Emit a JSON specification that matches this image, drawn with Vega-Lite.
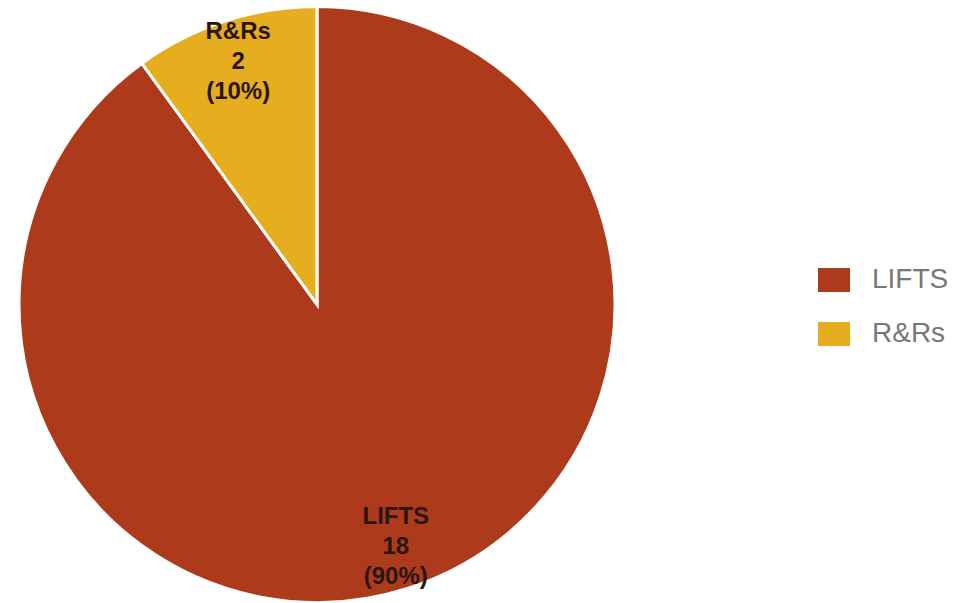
{
  "$schema": "https://vega.github.io/schema/vega-lite/v6.json",
  "width": 634,
  "height": 603,
  "padding": {"left": 0, "top": 3, "right": 325, "bottom": 0},
  "autosize": {"type": "none"},
  "background": "white",
  "data": {
    "values": [
      {"category": "LIFTS", "count": 18, "label": "LIFTS\n18\n(90%)", "order": 1},
      {"category": "R&Rs", "count": 2, "label": "R&Rs\n2\n(10%)", "order": 2}
    ]
  },
  "encoding": {
    "theta": {"field": "count", "type": "quantitative", "stack": true},
    "order": {"field": "order", "type": "quantitative"}
  },
  "layer": [
    {
      "mark": {"type": "arc", "outerRadius": 298, "stroke": "white", "strokeWidth": 3},
      "encoding": {
        "color": {
          "field": "category",
          "type": "nominal",
          "scale": {"domain": ["LIFTS", "R&Rs"], "range": ["#AE3A1C", "#E6AE1F"]},
          "legend": {
            "title": null,
            "orient": "none",
            "legendX": 820,
            "legendY": 263,
            "symbolType": "M-1.333,-1H1.333V1H-1.333Z",
            "symbolSize": 576,
            "symbolStrokeWidth": 0,
            "symbolOpacity": 1,
            "labelFont": "Liberation Sans",
            "labelFontSize": 28,
            "labelColor": "#777777",
            "labelOffset": 24,
            "rowPadding": 26,
            "symbolOffset": 0
          }
        }
      }
    },
    {
      "mark": {
        "type": "text",
        "radius": 255,
        "dy": -30,
        "lineBreak": "\n",
        "font": "Liberation Sans",
        "fontWeight": "bold",
        "fontSize": 24,
        "lineHeight": 30,
        "align": "center",
        "baseline": "middle",
        "color": "#2a1608"
      },
      "encoding": {"text": {"field": "label"}}
    }
  ]
}
